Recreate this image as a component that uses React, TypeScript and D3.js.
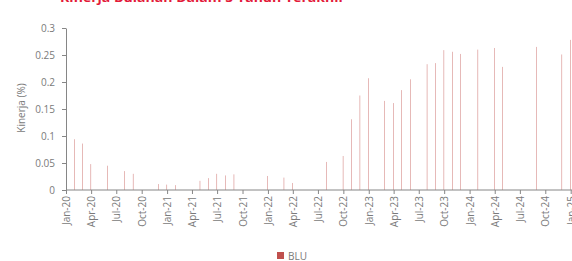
import React, { useEffect, useRef } from 'react';
import * as d3 from 'd3';

// month-end dates of the reported values
const dates = [
  '2020-01-31', '2020-02-29', '2020-03-31', '2020-05-31', '2020-07-31', '2020-08-31',
  '2020-11-30', '2020-12-31', '2021-01-31', '2021-04-30', '2021-05-31', '2021-06-30',
  '2021-07-31', '2021-08-31', '2021-12-31', '2022-02-28', '2022-03-31', '2022-07-31',
  '2022-09-30', '2022-10-31', '2022-11-30', '2022-12-31', '2023-02-28', '2023-03-31',
  '2023-04-30', '2023-05-31', '2023-07-31', '2023-08-31', '2023-09-30', '2023-10-31',
  '2023-11-30', '2024-01-31', '2024-03-31', '2024-04-30', '2024-08-31', '2024-11-30',
  '2024-12-31'
];

const bluValues = [
  0.094, 0.086, 0.048, 0.045, 0.035, 0.030,
  0.011, 0.010, 0.009, 0.017, 0.022, 0.030,
  0.027, 0.029, 0.026, 0.023, 0.013, 0.052,
  0.063, 0.131, 0.175, 0.207, 0.165, 0.161,
  0.185, 0.205, 0.233, 0.235, 0.259, 0.256,
  0.252, 0.260, 0.263, 0.228, 0.265, 0.251,
  0.278
];

const yTicks = [0, 0.05, 0.1, 0.15, 0.2, 0.25, 0.3];
const seriesName = 'BLU';
const chartTitle = 'Kinerja Bulanan Dalam 5 Tahun Terakhir';
const yTitle = 'Kinerja (%)';

export default function App() {
  const ref = useRef<SVGSVGElement>(null);

  useEffect(() => {
    const W = 572, H = 261;
    const left = 66, top = 28, bottom = 190;
    const font = '"Open Sans", "Noto Sans", sans-serif';
    const textColor = '#7a7a7a';
    const svg = d3.select(ref.current);
    svg.selectAll('*').remove();

    const parse = d3.utcParse('%Y-%m-%d');
    const data = dates.map((d, i) => ({ date: parse(d) as Date, value: bluValues[i] }));

    const x = d3.scaleUtc()
      .domain([new Date(Date.UTC(2020, 0, 1)), new Date(Date.UTC(2025, 0, 1))])
      .range([left, 570.7]);
    const y = d3.scaleLinear().domain([0, 0.3]).range([bottom, top]);

    // title (mostly cut off at the top)
    svg.append('text')
      .attr('x', 60).attr('y', 1.8)
      .attr('textLength', 285).attr('lengthAdjust', 'spacingAndGlyphs')
      .attr('fill', '#e31b3a')
      .style('font', `bold 12px ${font}`)
      .text(chartTitle);

    // bars, very thin because each is one day wide on the time axis
    svg.append('g').selectAll('rect')
      .data(data)
      .enter()
      .append('rect')
      .attr('x', d => x(d.date) - 0.2)
      .attr('y', d => y(d.value))
      .attr('width', 0.4)
      .attr('height', d => bottom - y(d.value))
      .attr('fill', '#c0504d');

    // y axis
    const yAxis = d3.axisLeft(y).tickValues(yTicks).tickSize(4).tickSizeOuter(0)
      .tickFormat(d => String(+d));
    const gy = svg.append('g').attr('transform', `translate(${left},0)`).call(yAxis);
    gy.select('.domain').attr('stroke', '#868686');
    gy.selectAll('.tick line').attr('stroke', '#868686');
    gy.selectAll('.tick text')
      .attr('x', -11)
      .attr('fill', textColor)
      .style('font', `10px ${font}`);

    // x axis
    const xAxis = d3.axisBottom(x).ticks(d3.utcMonth.every(3)).tickSize(4).tickSizeOuter(0)
      .tickFormat(d => d3.utcFormat('%b-%y')(d as Date));
    const gx = svg.append('g').attr('transform', `translate(0,${bottom})`).call(xAxis);
    gx.select('.domain').remove();
    gx.append('line').attr('x1', left).attr('x2', W).attr('stroke', '#868686');
    gx.selectAll('.tick line').attr('stroke', '#868686');
    gx.selectAll('.tick text')
      .attr('transform', 'rotate(-90)')
      .attr('x', -6).attr('y', 0).attr('dy', '0.35em')
      .style('text-anchor', 'end')
      .attr('fill', textColor)
      .style('font', `10px ${font}`);

    // y axis title
    svg.append('text')
      .attr('transform', `translate(25,108) rotate(-90)`)
      .attr('text-anchor', 'middle')
      .attr('fill', textColor)
      .style('font', `10px ${font}`)
      .text(yTitle);

    // legend
    const lg = svg.append('g').attr('transform', 'translate(277,252)');
    lg.append('rect').attr('width', 7).attr('height', 7).attr('fill', '#c0504d');
    lg.append('text').attr('x', 11).attr('y', 7.5)
      .attr('fill', textColor)
      .style('font', `10px ${font}`)
      .text(seriesName);

    svg.attr('width', W).attr('height', H);
  }, []);

  return (
    <svg ref={ref} width={572} height={261}
      style={{ position: 'absolute', left: 0, top: 0, overflow: 'hidden', background: '#fff' }} />
  );
}
